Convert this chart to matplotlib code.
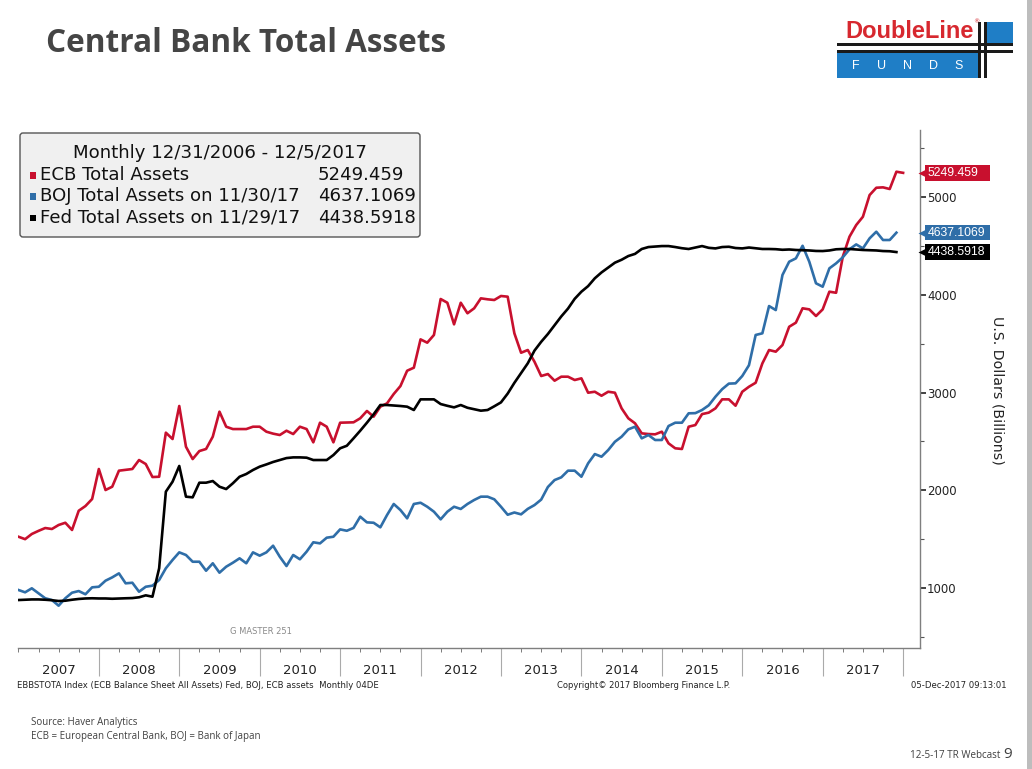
import numpy as np
import matplotlib
matplotlib.use("Agg")
import matplotlib.pyplot as plt
from matplotlib.patches import Rectangle, FancyBboxPatch
from matplotlib.transforms import Affine2D, blended_transform_factory

# Monthly values, index 0 = Dec 2006 (US$ bn)
ecb_assets = [
    1525, 1500, 1553, 1585, 1614, 1604, 1645, 1668, 1594, 1791, 1839, 1911,
    2218, 2003, 2037, 2201, 2210, 2218, 2310, 2269, 2136, 2139, 2590, 2525,
    2863, 2446, 2320, 2402, 2423, 2549, 2805, 2651, 2627, 2627, 2627, 2651,
    2651, 2600, 2580, 2566, 2610, 2576, 2651, 2627, 2491, 2692, 2651, 2491,
    2692, 2694, 2696, 2737, 2812, 2754, 2856, 2890, 2986, 3067, 3224, 3255,
    3545, 3511, 3590, 3958, 3920, 3699, 3920, 3812, 3863, 3965, 3955, 3948,
    3989, 3982, 3607, 3408, 3436, 3316, 3170, 3190, 3122, 3163, 3163, 3129,
    3146, 2999, 3009, 2968, 3009, 2999, 2839, 2737, 2686, 2583, 2576, 2573,
    2600, 2481, 2430, 2423, 2651, 2668, 2780, 2795, 2839, 2931, 2931, 2866,
    3009, 3060, 3101, 3299, 3436, 3419, 3487, 3674, 3716, 3863, 3852, 3784,
    3852, 4033, 4022, 4391, 4596, 4715, 4800, 5022, 5097, 5101, 5084, 5261,
    5249.459,
]
boj_assets = [
    980, 956, 997, 946, 895, 877, 819, 895, 952, 969, 936, 1007,
    1013, 1075, 1109, 1150, 1048, 1054, 962, 1013, 1024, 1082, 1202, 1287,
    1365, 1338, 1269, 1269, 1177, 1253, 1157, 1218, 1259, 1304, 1253, 1365,
    1331, 1365, 1433, 1320, 1225, 1338, 1294, 1372, 1468, 1457, 1515, 1525,
    1600, 1586, 1615, 1730, 1672, 1668, 1621, 1747, 1860, 1798, 1713, 1860,
    1873, 1832, 1781, 1703, 1781, 1832, 1809, 1860, 1901, 1935, 1935, 1908,
    1832, 1750, 1773, 1754, 1810, 1849, 1905, 2034, 2105, 2133, 2201, 2201,
    2139, 2276, 2371, 2344, 2412, 2497, 2549, 2624, 2651, 2532, 2566, 2515,
    2515, 2658, 2692, 2692, 2788, 2790, 2822, 2870, 2958, 3035, 3092, 3095,
    3170, 3280, 3590, 3607, 3886, 3845, 4204, 4340, 4374, 4503, 4340, 4119,
    4084, 4272, 4323, 4385, 4467, 4517, 4476, 4579, 4647, 4562, 4562, 4637.1069,
]
fed_assets = [
    877, 880, 883, 883, 880, 875, 867, 870, 880, 888, 893, 895,
    893, 893, 890, 893, 895, 897, 905, 925, 911, 1202, 1986, 2088,
    2249, 1935, 1928, 2078, 2078, 2095, 2037, 2013, 2072, 2139, 2167, 2208,
    2242, 2265, 2290, 2310, 2330, 2337, 2337, 2334, 2310, 2310, 2310, 2361,
    2430, 2456, 2532, 2610, 2692, 2778, 2873, 2873, 2868, 2863, 2856, 2822,
    2931, 2931, 2931, 2883, 2865, 2849, 2873, 2845, 2830, 2815, 2822, 2860,
    2900, 2990, 3100, 3200, 3300, 3430, 3520, 3600, 3690, 3780, 3860, 3960,
    4033, 4090, 4170, 4230, 4280, 4330, 4360, 4398, 4420, 4470, 4490, 4495,
    4500, 4500, 4490, 4478, 4470, 4485, 4500, 4482, 4476, 4490, 4493, 4480,
    4476, 4485, 4478, 4470, 4470, 4468, 4462, 4465, 4460, 4458, 4455, 4450,
    4449, 4455, 4467, 4470, 4470, 4465, 4460, 4458, 4455, 4449, 4447, 4438.5918,
]
series_names = ["ECB Total Assets", "BOJ Total Assets on 11/30/17", "Fed Total Assets on 11/29/17"]
series_last = ["5249.459", "4637.1069", "4438.5918"]
series_colors = ["#c8102e", "#2f6ea8", "#000000"]
years = list(range(2007, 2018))
y_major = [1000, 2000, 3000, 4000, 5000]

W, H = 1032, 769
fig = plt.figure(figsize=(W / 100, H / 100), dpi=100)
fig.patch.set_facecolor("white")
# pixel coordinates measured from the top-left corner
pix = Affine2D().scale(1 / W, -1 / H).translate(0, 1) + fig.transFigure

ax_l, ax_r, ax_t, ax_b = 18, 920, 130, 648
ax = fig.add_axes([ax_l / W, 1 - ax_b / H, (ax_r - ax_l) / W, (ax_b - ax_t) / H])
all_series = [ecb_assets, boj_assets, fed_assets]
for vals, col in zip(all_series, series_colors):
    t = 2007 + np.arange(len(vals)) / 12
    ax.plot(t, vals, color=col, lw=1.9, solid_joinstyle="round", zorder=3)

ylo, yhi = 386, 5688
ax.set_xlim(2006.995, 2018.21)
ax.set_ylim(ylo, yhi)
for s in ["left", "top"]:
    ax.spines[s].set_visible(False)
for s in ["right", "bottom"]:
    ax.spines[s].set_color("#7f7f7f")
    ax.spines[s].set_linewidth(1.0)

ax.yaxis.tick_right()
ax.set_yticks(y_major)
ax.set_yticks(np.arange(500, 5600, 1000), minor=True)
ax.tick_params(axis="y", which="major", direction="out", length=4, width=1.2,
               color="#222222", labelsize=8.5, labelcolor="#222222", pad=1)
ax.tick_params(axis="y", which="minor", direction="out", length=3, width=0.8, color="#555555")
ax.set_xticks(range(2008, 2019))
ax.set_xticks(np.arange(2007, 2018.2, 0.25), minor=True)
ax.tick_params(axis="x", which="major", direction="out", length=20, width=0.8,
               color="#aaaaaa", labelbottom=False)
ax.tick_params(axis="x", which="minor", direction="out", length=3, width=0.6, color="#666666")

xband = blended_transform_factory(ax.transData, ax.transAxes)
for yr in years:
    ax.text(yr + 0.5, -0.044, str(yr), transform=xband, ha="center", va="center",
            fontsize=9.5, color="#222222", family="DejaVu Sans")

fig.text(998, 390, "U.S. Dollars (Billions)", transform=pix, rotation=270,
         ha="center", va="center", fontsize=10.2, color="#222222", family="DejaVu Sans")

# last-value tags on the right axis
yband = blended_transform_factory(ax.transAxes, ax.transData)
px_w = ax_r - ax_l
units_per_px = (yhi - ylo) / (ax_b - ax_t)
tag_h = 15.5 * units_per_px
tag_x0 = (925 - ax_l) / px_w
tag_w = 65 / px_w
for lab, vals, col in zip(series_last, all_series, series_colors):
    v = vals[-1]
    ax.add_patch(Rectangle((tag_x0, v - tag_h / 2), tag_w, tag_h, transform=yband,
                           fc=col, ec="none", clip_on=False, zorder=5))
    ax.plot([(922.5 - ax_l) / px_w], [v], marker="<", ms=5.5, color=col, mec="none",
            transform=yband, clip_on=False, zorder=5)
    ax.text((927.5 - ax_l) / px_w, v, lab, transform=yband, ha="left", va="center",
            fontsize=8.8, color="white", family="Liberation Sans", clip_on=False, zorder=6)

fig.text(230, 632, "G MASTER 251", transform=pix, fontsize=6, color="#8a8a8a",
         ha="left", va="center")

# legend box
fig.patches.append(FancyBboxPatch((20, 133), 400, 104, boxstyle="round,pad=0,rounding_size=3",
                                  transform=pix, fc="#f0f0f0", ec="#555555", lw=1.0))
leg_fs = 13.1
fig.text(220, 153, "Monthly 12/31/2006 - 12/5/2017", transform=pix, ha="center", va="center",
         fontsize=leg_fs, color="#111111")
for k, (name, lab, col) in enumerate(zip(series_names, series_last, series_colors)):
    yy = 175 + k * 21.3
    fig.patches.append(Rectangle((29.5, yy - 3), 6.5, 6.5, transform=pix, fc=col, ec="none"))
    fig.text(40, yy, name, transform=pix, ha="left", va="center", fontsize=leg_fs, color="#111111")
    fig.text(318, yy, lab, transform=pix, ha="left", va="center", fontsize=leg_fs, color="#111111")

# title
fig.text(46, 44, "Central Bank Total Assets", transform=pix, ha="left", va="center",
         fontsize=22.7, fontweight="bold", color="#454545", family="Open Sans")

# DoubleLine logo
fig.text(845, 38, "DoubleLine", transform=pix, ha="left", va="baseline", fontsize=17,
         fontweight="bold", color="#d7282f", family="Liberation Sans")
fig.text(976, 22, "®", transform=pix, ha="center", va="center", fontsize=4.5, color="#d7282f")
for y0 in (43, 50):
    fig.patches.append(Rectangle((837, y0), 176, 3, transform=pix, fc="#1a1a1a", ec="none"))
fig.patches.append(Rectangle((837, 53), 141, 25, transform=pix, fc="#1f7ec6", ec="none"))
fig.patches.append(Rectangle((987, 22), 26, 21, transform=pix, fc="#1f7ec6", ec="none"))
for x0 in (978, 984):
    fig.patches.append(Rectangle((x0, 22), 2.6, 56, transform=pix, fc="#1a1a1a", ec="none"))
for xl, ch in zip([856, 882, 908, 934, 959], "FUNDS"):
    fig.text(xl, 66, ch, transform=pix, ha="center", va="center", fontsize=9,
             color="white", family="Liberation Sans")

# right edge strip
fig.patches.append(Rectangle((1027, 0), 5, H, transform=pix, fc="#bdbdbd", ec="none"))

# footer lines
fig.text(17, 685, "EBBSTOTA Index (ECB Balance Sheet All Assets) Fed, BOJ, ECB assets  Monthly 04DE",
         transform=pix, ha="left", va="center", fontsize=6.1, color="#222222")
fig.text(557, 685, "Copyright\u00a9 2017 Bloomberg Finance L.P.", transform=pix, ha="left",
         va="center", fontsize=6.0, color="#222222")
fig.text(911, 685, "05-Dec-2017 09:13:01", transform=pix, ha="left", va="center",
         fontsize=6.1, color="#222222")
fig.text(31, 722, "Source: Haver Analytics", transform=pix, ha="left", va="center",
         fontsize=7.0, color="#404040", family="Open Sans")
fig.text(31, 736, "ECB = European Central Bank, BOJ = Bank of Japan", transform=pix, ha="left",
         va="center", fontsize=7.0, color="#404040", family="Open Sans")
fig.text(1000, 758, "12-5-17 TR Webcast", transform=pix, ha="right", va="baseline",
         fontsize=7.1, color="#404040", family="Open Sans")
fig.text(1003, 758, "9", transform=pix, ha="left", va="baseline",
         fontsize=11, color="#404040", family="Open Sans")

fig.savefig("out.png", dpi=100)
